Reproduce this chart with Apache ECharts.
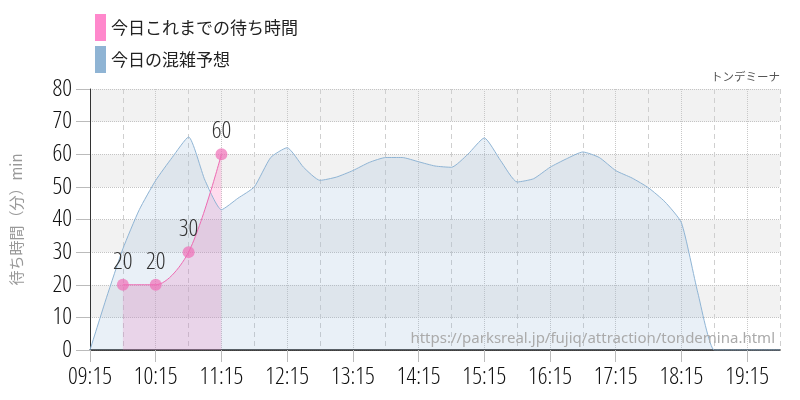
<!DOCTYPE html>
<html><head><meta charset="utf-8">
<script src="https://cdn.jsdelivr.net/npm/echarts@6/dist/echarts.min.js"></script>
<style>html,body{margin:0;padding:0;background:#fff}#c{width:800px;height:400px}</style>
</head><body><div id="c"></div>
<script>
// Use a condensed width of the sans face for the numeric labels
(function () {
  const proto = CanvasRenderingContext2D.prototype;
  const desc = Object.getOwnPropertyDescriptor(proto, 'font');
  if (desc && desc.set && 'fontStretch' in proto) {
    Object.defineProperty(proto, 'font', {
      configurable: true,
      get() { return desc.get.call(this); },
      set(v) { desc.set.call(this, v); this.fontStretch = /Open Sans/.test(v) ? 'ultra-condensed' : 'normal'; }
    });
  }
})();

const times = ['09:15','09:30','09:45','10:00','10:15','10:30','10:45','11:00','11:15','11:30','11:45',
  '12:00','12:15','12:30','12:45','13:00','13:15','13:30','13:45','14:00','14:15','14:30','14:45',
  '15:00','15:15','15:30','15:45','16:00','16:15','16:30','16:45','17:00','17:15','17:30','17:45',
  '18:00','18:15','18:30','18:45','19:00','19:15','19:30','19:45'];
const forecast = [0,16,31,43,52,59,65.3,52,43,46.5,50,
  59,62,56,52,53,55,57.5,59,59,57.7,56.4,56,
  60,65,58,51.5,52.5,56,58.6,60.7,59,55,52.7,49.7,
  45.4,39,17.5,0,0,0,0,0];
const waitTimes = ['09:45','10:15','10:45','11:15'];
const waitValues = [20,20,30,60];
const yTicks = [0,10,20,30,40,50,60,70,80];

const nameWait = '今日これまでの待ち時間';
const nameForecast = '今日の混雑予想';
const narrow = "'Open Sans',sans-serif";
const cjk = "'Noto Sans CJK JP',sans-serif";
const waitData = waitTimes.map((t, i) => [t, waitValues[i]]);

const chart = echarts.init(document.getElementById('c'), null, {renderer:'canvas'});
chart.setOption({
  animation: false,
  backgroundColor: '#ffffff',
  grid: {left: 90, right: 20, top: 89, bottom: 50, containLabel: false},
  legend: {
    orient: 'vertical', left: 95, top: 14, padding: 0, itemWidth: 11, itemHeight: 27, itemGap: 5,
    icon: 'rect', selectedMode: false,
    textStyle: {fontSize: 17, color: '#222', fontFamily: cjk},
    data: [
      {name: nameWait, itemStyle: {color: '#ff88cc', borderWidth: 0}},
      {name: nameForecast, itemStyle: {color: '#8fb4d4', borderWidth: 0}}
    ]
  },
  xAxis: [{
    type: 'category', data: times, boundaryGap: false,
    axisLine: {show: true, lineStyle: {color: '#111', width: 1.5}},
    axisTick: {show: true, length: 12, lineStyle: {color: '#bbb'},
      interval: (i, v) => v.endsWith(':15')},
    axisLabel: {show: true, margin: 15, fontSize: 24, fontWeight: 300, color: '#111', fontFamily: narrow,
      interval: (i, v) => v.endsWith(':15')},
    splitLine: {show: true, lineStyle: {color: '#c8c8c8', type: 'dotted', width: 1},
      interval: (i, v) => v.endsWith(':15') && i > 0}
  }, {
    type: 'category', data: times, boundaryGap: false, position: 'bottom',
    axisLine: {show: false}, axisTick: {show: false}, axisLabel: {show: false},
    splitLine: {show: true, lineStyle: {color: '#cfcfcf', type: [5, 4], width: 1},
      interval: (i, v) => v.endsWith(':45')}
  }],
  yAxis: {
    type: 'value', min: 0, max: 80, interval: 10,
    name: '待ち時間（分）min', nameLocation: 'middle', nameGap: 66,
    nameTextStyle: {color: '#999', fontSize: 15, fontFamily: cjk},
    axisLine: {show: true, lineStyle: {color: '#333', width: 1}},
    axisTick: {show: true, length: 14, lineStyle: {color: '#bbb'}},
    axisLabel: {margin: 18, fontSize: 24, fontWeight: 300, color: '#111', fontFamily: narrow, customValues: yTicks},
    splitLine: {show: true, lineStyle: {color: '#c4c4c4', type: 'dotted'}},
    splitArea: {show: true, areaStyle: {color: ['#ffffff', '#f2f2f2']}}
  },
  graphic: [
    {type: 'text', right: 20, top: 71, style: {text: 'トンデミーナ', fill: '#555', fontSize: 11.5, fontFamily: cjk}},
    {type: 'text', right: 25, top: 331, z: 100, style: {text: 'https://parksreal.jp/fujiq/attraction/tondemina.html', fill: '#aaa', fontSize: 15, fontFamily: "'Noto Sans',sans-serif"}}
  ],
  series: [{
    // pink fill, drawn beneath the forecast area
    name: nameWait, type: 'line', smooth: 0.3, symbol: 'none', silent: true,
    data: waitData,
    lineStyle: {width: 0, opacity: 0},
    itemStyle: {color: '#ff88cc'},
    areaStyle: {color: 'rgba(255,105,180,0.33)'},
    z: 1
  }, {
    name: nameForecast, type: 'line', smooth: 0.18, symbol: 'none',
    data: forecast,
    lineStyle: {color: '#8fb4d4', width: 1},
    itemStyle: {color: '#8fb4d4'},
    areaStyle: {color: 'rgba(143,180,212,0.28)'},
    z: 2
  }, {
    name: nameWait, type: 'line', smooth: 0.3, symbol: 'circle', symbolSize: 12,
    showSymbol: true, showAllSymbol: true,
    data: waitData,
    lineStyle: {color: '#ee6ab2', width: 1},
    itemStyle: {color: 'rgba(240,110,182,0.7)'},
    label: {show: true, position: 'top', distance: 5, fontSize: 24, fontWeight: 300, color: '#333', fontFamily: narrow},
    z: 3
  }]
});
</script></body></html>
